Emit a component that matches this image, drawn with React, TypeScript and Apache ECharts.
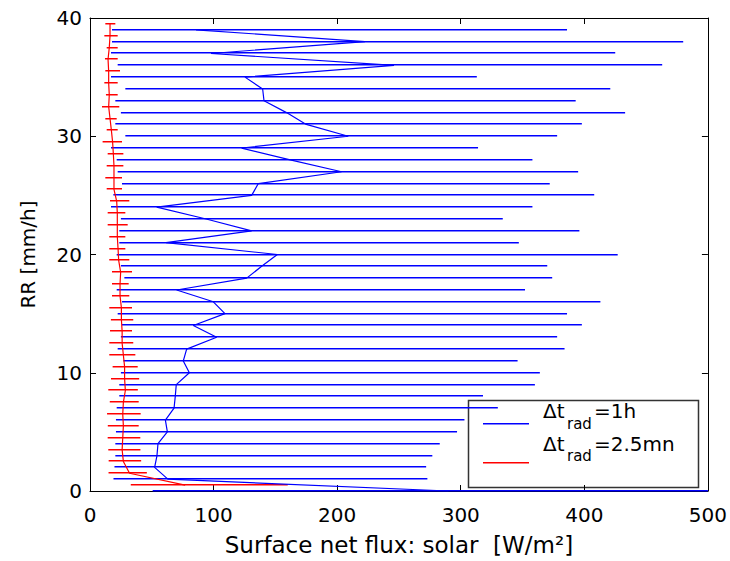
import React, { useEffect, useRef } from "react";
import * as echarts from "echarts";

// RR levels (mm/h)
const blueRR = Array.from({ length: 40 }, (_, i) => i);
const redRR = Array.from({ length: 40 }, (_, i) => i + 0.5);

// Δt_rad = 1h : mean, min, max of surface net solar flux (W/m2)
const blueMean = [
  290, 63, 52.3, 54.2, 55, 62.6, 61, 68, 69, 69.8,
  80.4, 75.5, 78.2, 102.5, 83.6, 109.2, 99.8, 70.1, 126.8, 138.9,
  151.6, 61.5, 130.8, 94, 54, 130.8, 136.2, 203.6, 162, 122.7,
  209, 175, 159, 140.8, 139.7, 125.4, 246, 97.9, 222.5, 85.8,
];
const blueLo = [
  50.7, 19, 19.8, 20.5, 20.5, 21, 21, 21.6, 23.7, 23.7,
  25, 27, 22.4, 25, 25.9, 22.4, 25.9, 21.6, 27.8, 25,
  21.6, 23.7, 23.7, 25, 17, 18.9, 25.9, 22.4, 21.6, 17,
  28.6, 20.5, 25, 20.5, 28.6, 17, 22.4, 17, 17.8, 17.8,
];
const blueHi = [
  500, 273, 272, 277, 283, 297, 303, 330, 318, 360,
  364, 346, 384, 378, 398, 386, 413, 352, 374, 370,
  427, 347, 396, 334, 358, 408, 372, 395, 358, 314,
  378, 398, 433, 393, 421, 313, 463, 425, 480, 386,
];

// Δt_rad = 2.5mn
const redMean = [
  77, 32, 27, 26, 26.5, 27, 26.5, 27, 28.6, 28,
  28, 27, 26, 26, 25.4, 25.4, 24.3, 24.3, 24.8, 23.2,
  22.7, 22.1, 22.1, 22.1, 21.6, 19.4, 19.4, 19.4, 18.9, 18.3,
  17.3, 16.2, 15.1, 15.6, 15.1, 15.1, 14.6, 15.6, 16.2, 16.2,
];
const redLo = [
  33, 15, 15.1, 14.8, 14.3, 14.4, 13.8, 16, 14.8, 17,
  18.3, 15.6, 15.6, 16.2, 16.9, 15.6, 17.8, 17.8, 17.8, 15.6,
  15.6, 15.6, 14.3, 14.3, 16.2, 13.5, 12.4, 13.5, 14.3, 10.2,
  13.5, 12.4, 9.7, 12.9, 11.6, 12.4, 12.1, 13.5, 11.6, 12.4,
];
const redHi = [
  160, 46, 41.4, 40.8, 40.7, 39.4, 41, 39.4, 38.7, 39.8,
  38.6, 36.7, 35, 34, 35, 34, 31.8, 31.3, 34, 31.8,
  28.6, 28.6, 30.5, 28.6, 31.8, 25.9, 25.9, 27, 27, 25.9,
  22.4, 21.6, 23.7, 22.4, 22.4, 24.3, 22.4, 22.4, 22.4, 20.5,
];

const xTicks = { min: 0, max: 500, interval: 100 };
const yTicks = { min: 0, max: 40, interval: 10 };

const FONT = "DejaVu Sans";
const BLUE = "#0000ff";
const RED = "#ff0000";

function barSeries(name: string, lo: number[], hi: number[], rr: number[], color: string) {
  return {
    name,
    type: "custom",
    xAxisIndex: 0,
    yAxisIndex: 0,
    silent: true,
    data: rr.map((r, i) => [lo[i], hi[i], r]),
    encode: { x: [0, 1], y: 2 },
    renderItem: (_params: any, api: any) => {
      const a = api.coord([api.value(0), api.value(2)]);
      const b = api.coord([api.value(1), api.value(2)]);
      // one full pixel row plus a half-covered row, like the reference's bars
      const y = Math.round(a[1]) - 0.25;
      return {
        type: "line",
        shape: { x1: a[0], y1: y, x2: b[0], y2: y },
        style: { stroke: color, lineWidth: 1.5, fill: null },
      };
    },
  };
}

function meanSeries(name: string, mean: number[], rr: number[], color: string) {
  return {
    name,
    type: "line",
    xAxisIndex: 0,
    yAxisIndex: 0,
    data: rr.map((r, i) => [mean[i], r]),
    symbol: "none",
    lineStyle: { color, width: 1.2 },
    itemStyle: { color },
  };
}

const axisLineStyle = { show: true, onZero: false, lineStyle: { color: "#000", width: 1 } };
const tickStyle = { show: true, inside: true, length: 6, lineStyle: { color: "#000", width: 1 } };

export default function App() {
  const ref = useRef<HTMLDivElement>(null);
  useEffect(() => {
    if (!ref.current) return;
    const chart = echarts.init(ref.current, undefined, { renderer: "svg" });
    const textBase = { fontFamily: FONT, fill: "#000" };
    chart.setOption({
      animation: false,
      backgroundColor: "#ffffff",
      grid: { left: 90, right: 22, top: 18, bottom: 67, containLabel: false },
      xAxis: [
        {
          type: "value",
          position: "bottom",
          ...xTicks,
          axisLine: axisLineStyle,
          axisTick: tickStyle,
          axisLabel: { color: "#000", fontSize: 20, fontFamily: FONT, margin: 14 },
          splitLine: { show: false },
          name: "Surface net flux: solar  [W/m²]",
          nameLocation: "middle",
          nameGap: 42,
          nameTextStyle: { color: "#000", fontSize: 23, fontFamily: FONT },
        },
        {
          type: "value",
          position: "top",
          ...xTicks,
          axisLine: axisLineStyle,
          axisTick: tickStyle,
          axisLabel: { show: false },
          splitLine: { show: false },
        },
      ],
      yAxis: [
        {
          type: "value",
          position: "left",
          ...yTicks,
          axisLine: axisLineStyle,
          axisTick: tickStyle,
          axisLabel: { color: "#000", fontSize: 20, fontFamily: FONT, margin: 8 },
          splitLine: { show: false },
          name: "RR [mm/h]",
          nameLocation: "middle",
          nameGap: 52,
          nameRotate: 90,
          nameTextStyle: { color: "#000", fontSize: 20, fontFamily: FONT },
        },
        {
          type: "value",
          position: "right",
          ...yTicks,
          axisLine: axisLineStyle,
          axisTick: tickStyle,
          axisLabel: { show: false },
          splitLine: { show: false },
        },
      ],
      series: [
        barSeries("blueBars", blueLo, blueHi, blueRR, BLUE),
        meanSeries("Δt_rad=1h", blueMean, blueRR, BLUE),
        barSeries("redBars", redLo, redHi, redRR, RED),
        meanSeries("Δt_rad=2.5mn", redMean, redRR, RED),
      ],
      graphic: [
        {
          type: "group",
          z: 100,
          children: [
            {
              type: "rect",
              shape: { x: 468.5, y: 400.5, width: 230, height: 87 },
              style: { fill: "#fff", stroke: "#333", lineWidth: 1.5 },
            },
            { type: "line", shape: { x1: 483, y1: 423.75, x2: 529, y2: 423.75 }, style: { stroke: BLUE, lineWidth: 1.5 } },
            { type: "line", shape: { x1: 483, y1: 462.75, x2: 529, y2: 462.75 }, style: { stroke: RED, lineWidth: 1.5 } },
            { type: "text", x: 543, y: 411, style: { ...textBase, text: "Δt", fontSize: 20, verticalAlign: "middle" } },
            { type: "text", x: 567, y: 424, style: { ...textBase, text: "rad", fontSize: 15, verticalAlign: "middle" } },
            { type: "text", x: 594, y: 411, style: { ...textBase, text: "=1h", fontSize: 20, verticalAlign: "middle" } },
            { type: "text", x: 543, y: 444, style: { ...textBase, text: "Δt", fontSize: 20, verticalAlign: "middle" } },
            { type: "text", x: 567, y: 456, style: { ...textBase, text: "rad", fontSize: 15, verticalAlign: "middle" } },
            { type: "text", x: 594, y: 444, style: { ...textBase, text: "=2.5mn", fontSize: 20, verticalAlign: "middle" } },
          ],
        },
      ],
    });
    return () => chart.dispose();
  }, []);
  return (
    <div
      ref={ref}
      style={{ position: "fixed", left: 0, top: 0, width: 730, height: 561, background: "#fff" }}
    />
  );
}
